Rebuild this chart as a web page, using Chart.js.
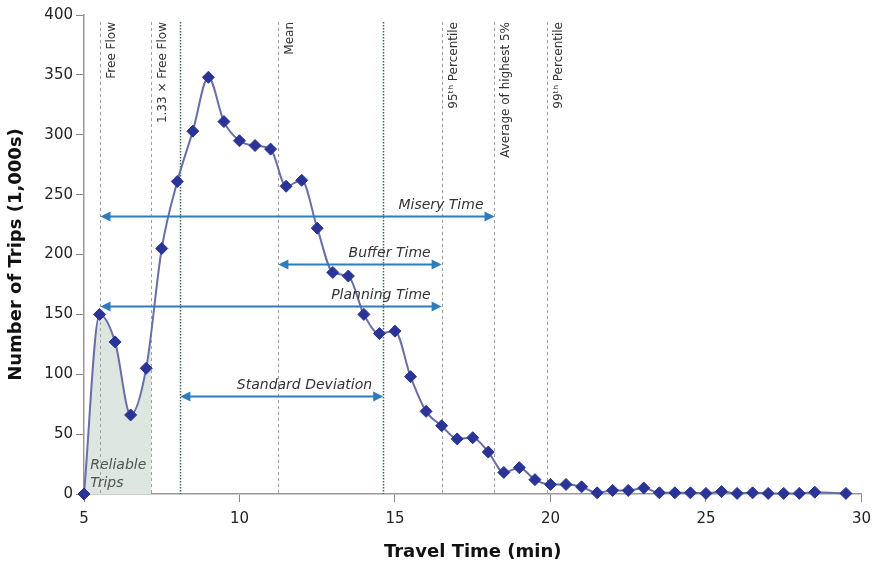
<!DOCTYPE html>
<html>
<head>
<meta charset="utf-8">
<script src="https://cdn.jsdelivr.net/npm/chart.js@4.4.1/dist/chart.umd.min.js"></script>
<style>
  html, body { margin: 0; padding: 0; background: #fff; }
  #wrap { width: 879px; height: 569px; }
</style>
</head>
<body>
<div id="wrap"><canvas id="myChart" width="879" height="569"></canvas></div>
<script>
// Datos
const tiempos = [5, 5.5, 6, 6.5, 7, 7.5, 8, 8.5, 9, 9.5, 10, 10.5, 11, 11.5, 12, 12.5, 13, 13.5, 14, 14.5,
  15, 15.5, 16, 16.5, 17, 17.5, 18, 18.5, 19, 19.5, 20, 20.5, 21, 21.5, 22, 22.5, 23, 23.5, 24, 24.5,
  25, 25.5, 26, 26.5, 27, 27.5, 28, 28.5, 29.5];
const viajes = [0, 150, 127, 66, 105, 205, 261, 303, 348, 311, 295, 291, 288, 257, 262, 222, 185, 182, 150, 134,
  136, 98, 69, 57, 46, 47, 35, 18, 22, 12, 8, 8, 6, 1, 3, 3, 5, 1, 1, 1,
  0.5, 2, 0.5, 1, 0.5, 0.5, 0.5, 1.5, 0.5];

const ticksX = [5, 10, 15, 20, 25, 30];
const ticksY = [0, 50, 100, 150, 200, 250, 300, 350, 400];

// lineas verticales de referencia
const marcasX = [5.53, 7.17, 8.1, 11.25, 14.62, 16.5, 18.2, 19.9];
const marcasTexto = ['Free Flow', '1.33 × Free Flow', '', 'Mean', '', '95ᵗʰ Percentile', 'Average of highest 5%', '99ᵗʰ Percentile'];
const marcasTipo = ['dash', 'dash', 'dot', 'dash', 'dot', 'dash', 'dash', 'dash'];

// flechas de indices
const flechasTexto = ['Misery Time', 'Buffer Time', 'Planning Time', 'Standard Deviation'];
const flechasDesde = [5.53, 11.25, 5.53, 8.1];
const flechasHasta = [18.2, 16.5, 16.5, 14.62];
const flechasNivel = [232, 192, 157, 82];

const limiteFiable = 7.17;
const textoFiable = ['Reliable', 'Trips'];

const fuente = "'DejaVu Sans', Verdana, sans-serif";

const anotaciones = {
  id: 'anotaciones',
  beforeDatasetsDraw(chart) {
    const { ctx, chartArea, scales } = chart;
    const y0 = scales.y.getPixelForValue(0);
    const yTop = chartArea.top + 7;
    ctx.save();
    marcasX.forEach((v, i) => {
      const px = Math.round(scales.x.getPixelForValue(v)) + 0.5;
      ctx.beginPath();
      if (marcasTipo[i] === 'dot') {
        ctx.strokeStyle = '#3d6b52';
        ctx.lineWidth = 1.5;
        ctx.setLineDash([1.5, 1.5]);
      } else {
        ctx.strokeStyle = '#a39aa3';
        ctx.lineWidth = 1;
        ctx.setLineDash([3, 3]);
      }
      ctx.moveTo(px, yTop);
      ctx.lineTo(px, y0);
      ctx.stroke();
      if (marcasTexto[i]) {
        ctx.save();
        ctx.translate(px + 11, yTop);
        ctx.rotate(-Math.PI / 2);
        ctx.setLineDash([]);
        ctx.fillStyle = '#333';
        ctx.font = '12px ' + fuente;
        ctx.textAlign = 'right';
        ctx.textBaseline = 'middle';
        ctx.fillText(marcasTexto[i], 0, 0);
        ctx.restore();
      }
    });
    ctx.setLineDash([]);
    // texto de viajes fiables
    ctx.fillStyle = '#4a5550';
    ctx.font = 'italic 14px ' + fuente;
    ctx.textAlign = 'left';
    ctx.textBaseline = 'middle';
    const xt = scales.x.getPixelForValue(5.2);
    ctx.fillText(textoFiable[0], xt, scales.y.getPixelForValue(24));
    ctx.fillText(textoFiable[1], xt, scales.y.getPixelForValue(9));
    ctx.restore();
  },
  afterDatasetsDraw(chart) {
    const { ctx, scales } = chart;
    ctx.save();
    const col = '#2e7cbb';
    flechasTexto.forEach((t, i) => {
      const x1 = scales.x.getPixelForValue(flechasDesde[i]);
      const x2 = scales.x.getPixelForValue(flechasHasta[i]);
      const y = Math.round(scales.y.getPixelForValue(flechasNivel[i])) + 0.5;
      ctx.strokeStyle = col;
      ctx.fillStyle = col;
      ctx.lineWidth = 2;
      ctx.beginPath();
      ctx.moveTo(x1 + 6, y);
      ctx.lineTo(x2 - 6, y);
      ctx.stroke();
      // puntas
      ctx.beginPath();
      ctx.moveTo(x1, y);
      ctx.lineTo(x1 + 10, y - 5);
      ctx.lineTo(x1 + 10, y + 5);
      ctx.closePath();
      ctx.fill();
      ctx.beginPath();
      ctx.moveTo(x2, y);
      ctx.lineTo(x2 - 10, y - 5);
      ctx.lineTo(x2 - 10, y + 5);
      ctx.closePath();
      ctx.fill();
      ctx.fillStyle = '#333';
      ctx.font = 'italic 14px ' + fuente;
      ctx.textAlign = 'right';
      ctx.textBaseline = 'middle';
      ctx.fillText(t, x2 - 11, y - 11);
    });
    ctx.restore();
  }
};

const ctx = document.getElementById('myChart');
const myChart = new Chart(ctx, {
  type: 'line',
  data: {
    datasets: [{
      data: tiempos.map((t, i) => ({ x: t, y: viajes[i] })),
      borderColor: '#6a6ea6',
      borderWidth: 2,
      cubicInterpolationMode: 'monotone',
      fill: 'origin',
      backgroundColor: (c) => {
        const chart = c.chart;
        const area = chart.chartArea;
        if (!area || !chart.scales.x) return 'rgba(0,0,0,0)';
        const g = chart.ctx.createLinearGradient(area.left, 0, area.right, 0);
        const f = (chart.scales.x.getPixelForValue(limiteFiable) - area.left) / (area.right - area.left);
        g.addColorStop(0, '#dde6e1');
        g.addColorStop(f, '#dde6e1');
        g.addColorStop(f, 'rgba(221,230,225,0)');
        g.addColorStop(1, 'rgba(221,230,225,0)');
        return g;
      },
      pointStyle: 'rectRot',
      pointRadius: 6,
      pointBackgroundColor: '#2a3396',
      pointBorderColor: '#2a3396',
      pointBorderWidth: 1,
      clip: false
    }]
  },
  options: {
    responsive: false,
    animation: false,
    devicePixelRatio: 1,
    layout: { padding: { top: 15, right: 15, left: 0, bottom: 0 } },
    scales: {
      x: {
        type: 'linear',
        min: 5,
        max: 30,
        afterBuildTicks: (s) => { s.ticks = ticksX.map(v => ({ value: v })); },
        afterFit: (s) => { s.height = 75; },
        grid: { drawOnChartArea: false, color: '#888', tickLength: 8 },
        border: { color: '#999', width: 1.5 },
        ticks: { color: '#222', padding: 8, font: { family: fuente, size: 15 } },
        title: {
          display: true,
          text: 'Travel Time (min)',
          color: '#111',
          padding: { top: 0, bottom: 6 },
          font: { family: fuente, size: 18, weight: 'bold' }
        }
      },
      y: {
        min: 0,
        max: 400,
        afterBuildTicks: (s) => { s.ticks = ticksY.map(v => ({ value: v })); },
        afterFit: (s) => { s.width = 84; },
        grid: { drawOnChartArea: false, color: '#888', tickLength: 8 },
        border: { color: '#999', width: 1.5 },
        ticks: { color: '#222', padding: 3, font: { family: fuente, size: 15 } },
        title: {
          display: true,
          text: 'Number of Trips (1,000s)',
          color: '#111',
          padding: { top: 6, bottom: 0 },
          font: { family: fuente, size: 18, weight: 'bold' }
        }
      }
    },
    plugins: {
      legend: { display: false },
      tooltip: { enabled: false },
      filler: { propagate: false, drawTime: 'beforeDatasetsDraw' }
    }
  },
  plugins: [anotaciones]
});
</script>
</body>
</html>
